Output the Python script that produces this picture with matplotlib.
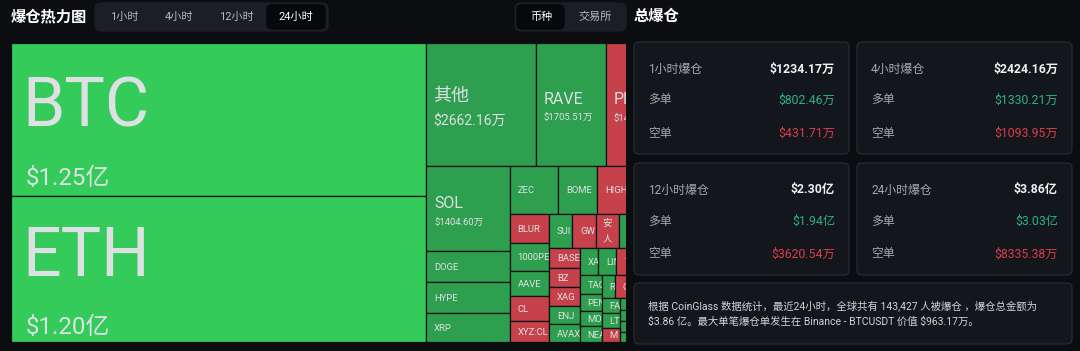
import matplotlib
matplotlib.use('Agg')
import matplotlib.pyplot as plt
from matplotlib.patches import Rectangle, FancyBboxPatch

# ---------------- data ----------------
coins = ['BTC', 'ETH', '其他', 'RAVE', 'PIPPIN', 'SOL', 'DOGE', 'HYPE', 'XRP',
         'ZEC', 'BOME', 'HIGH', 'BNB',
         'BLUR', '1000PEPE', 'AAVE', 'CL', 'XYZ:CL',
         'SUI', 'GW', '安人', 'ASTER', 'ENA',
         'BASE', 'BZ', 'XAG', 'ENJ', 'AVAX',
         'XAUT', 'LINK', 'TRUMP', 'ADA', 'ARB',
         'TAO', 'PENGU', 'MON', 'NEAR',
         'RIVER', 'OP', 'APT', 'FIL', 'WIF',
         'FARTCOIN', 'LTC', 'M',
         'SEI', 'TIA', 'INJ', 'JUP', 'ONDO', 'BCH', 'DOT', 'UNI', 'ETC', 'TON']
values = [12500, 12000, 2662.16, 1705.51, 1440, 1404.60, 510, 505, 477,
          457, 371, 350, 290,
          224, 216, 200, 193, 160,
          159, 158, 157, 156, 155,
          120, 117, 114, 110, 107,
          101, 97, 93, 85, 83,
          82, 72, 70, 68,
          60, 58, 57, 56, 55,
          54, 52, 50,
          48, 46, 44, 42, 40, 38, 36, 34, 32, 30]
sides = ['L', 'L', 'L', 'L', 'S', 'L', 'L', 'L', 'L',
         'L', 'L', 'S', 'L',
         'S', 'L', 'L', 'S', 'S',
         'L', 'S', 'S', 'L', 'L',
         'S', 'S', 'S', 'L', 'L',
         'L', 'L', 'S', 'L', 'L',
         'L', 'L', 'L', 'L',
         'L', 'S', 'L', 'L', 'L',
         'L', 'L', 'S',
         'L', 'L', 'L', 'L', 'L', 'L', 'L', 'L', 'L', 'L']

periods = ['1小时', '4小时', '12小时', '24小时']
total_liq = [1234.17, 2424.16, 23000.0, 38600.0]
long_liq = [802.46, 1330.21, 19400.0, 30300.0]
short_liq = [431.71, 1093.95, 3620.54, 8335.38]

time_tabs = ['1小时', '4小时', '12小时', '24小时']
group_tabs = ['币种', '交易所']
note_lines = ['根据 CoinGlass 数据统计，最近24小时，全球共有 143,427 人被爆仓 ，爆仓总金额为',
              '$3.86 亿。最大单笔爆仓单发生在 Binance - BTCUSDT 价值 $963.17万。']

# ---------------- style ----------------
BG = '#0b0d11'
CARD = '#13161b'
CARD_EDGE = '#2a2e35'
GREEN_BIG = '#34cb5b'
GREEN = '#2e9f4f'
RED = '#c6414a'
CELL_TXT = '#dde1e4'
UP = '#2bb38a'
DOWN = '#dc3b4f'

plt.rcParams['font.family'] = ['Roboto', 'Noto Sans CJK SC', 'DejaVu Sans']


def fmt(v):
    if v >= 10000:
        return '$%.2f亿' % (v / 10000.0)
    return '$%.2f万' % v


def squarify(vals, x, y, w, h, ratio=0.5 * (1 + 5 ** 0.5)):
    """ECharts-style squarified treemap layout."""
    total = float(sum(vals))
    scale = w * h / total
    areas = [v * scale for v in vals]
    out = [None] * len(vals)
    rect = {'x': x, 'y': y, 'width': w, 'height': h}

    def worst(row, rarea, L):
        if rarea <= 0:
            return float('inf')
        amax = max(areas[i] for i in row)
        amin = min(areas[i] for i in row)
        sq = rarea * rarea
        f = L * L * ratio
        return max(f * amax / sq, sq / (f * amin))

    def position(row, rarea, L, flush):
        horiz = (L == rect['width'])
        if horiz:
            p0, s0, p1, s1 = 'x', 'width', 'y', 'height'
        else:
            p0, s0, p1, s1 = 'y', 'height', 'x', 'width'
        last = rect[p0]
        other = rarea / L if L else 0
        if flush or other > rect[s1]:
            other = rect[s1]
        for j, idx in enumerate(row):
            step = areas[idx] / other if other else 0
            remain = rect[p0] + rect[s0] - last
            mod = remain if (j == len(row) - 1 or remain < step) else step
            if horiz:
                out[idx] = (last, rect['y'], mod, other)
            else:
                out[idx] = (rect['x'], last, other, mod)
            last += mod
        rect[p1] += other
        rect[s1] -= other

    L = min(w, h)
    best = float('inf')
    row, rarea = [], 0.0
    i = 0
    while i < len(vals):
        row.append(i)
        rarea += areas[i]
        score = worst(row, rarea, L)
        if score <= best:
            i += 1
            best = score
        else:
            row.pop()
            rarea -= areas[i]
            position(row, rarea, L, False)
            L = min(rect['width'], rect['height'])
            row, rarea = [], 0.0
            best = float('inf')
    if row:
        position(row, rarea, L, True)
    return out


def tier(v):
    if v >= 10000:
        return dict(name_px=68, val_px=24, dn=-17, dv=57, pad=11)
    if v >= 2000:
        return dict(name_px=18, val_px=14, dn=-10.5, dv=16, pad=7)
    if v >= 1000:
        return dict(name_px=16, val_px=9.5, dn=-6.3, dv=13.3, pad=8)
    return dict(name_px=9.5, val_px=None, dn=0, dv=0, pad=8)


def is_cjk(s):
    return any('\u4e00' <= ch <= '\u9fff' for ch in s)


# ---------------- figure ----------------
fig = plt.figure(figsize=(10.8, 3.51), dpi=100, facecolor=BG)
renderer = fig.canvas.get_renderer()

ui = fig.add_axes([0, 0, 1, 1], zorder=0)
ui.set_xlim(0, 1080)
ui.set_ylim(351, 0)
ui.axis('off')
ui.set_facecolor(BG)


def rbox(x0, y0, x1, y1, fc, ec=None, r=5, lw=1.0):
    ui.add_patch(FancyBboxPatch((x0, y0), x1 - x0, y1 - y0,
                                boxstyle='round,pad=0,rounding_size=%s' % r,
                                fc=fc, ec=ec if ec else fc, lw=lw))


def utext(x, y, s, **kw):
    return ui.text(x, y, s, parse_math=False, **kw)


# header left
utext(11, 17, '爆仓热力图', fontsize=11, fontweight='bold', color='white',
      ha='left', va='center')
rbox(95, 3, 328, 31, '#1b1e24', r=6)
rbox(267, 5, 325, 29, '#07080b', r=5)
for lab, cx in zip(time_tabs, [124, 179, 236, 296]):
    sel = lab == '24小时'
    utext(cx, 17, lab, fontsize=8, color='#ffffff' if sel else '#b5b9c0',
          ha='center', va='center')

rbox(515, 3, 626, 31, '#1b1e24', r=6)
rbox(517, 5, 564, 29, '#07080b', r=5)
for lab, cx in zip(group_tabs, [541, 595]):
    sel = lab == '币种'
    utext(cx, 17, lab, fontsize=8, color='#ffffff' if sel else '#b5b9c0',
          ha='center', va='center')

# right panel
utext(634, 17, '总爆仓', fontsize=11, fontweight='bold', color='white',
      ha='left', va='center')
card_x = [634, 857]
card_y = [42, 163]
for i, p in enumerate(periods):
    x0 = card_x[i % 2]
    y0 = card_y[i // 2]
    rbox(x0, y0, x0 + 215, y0 + 112, CARD, ec=CARD_EDGE, r=5, lw=0.8)
    utext(x0 + 14, y0 + 27, p + '爆仓', fontsize=8.6, color='#a3a8b0',
          ha='left', va='center')
    utext(x0 + 201, y0 + 27, fmt(total_liq[i]), fontsize=8.8, fontweight='bold',
          color='#eef0f2', ha='right', va='center')
    utext(x0 + 14, y0 + 58, '多单', fontsize=8.6, color='#a3a8b0',
          ha='left', va='center')
    utext(x0 + 201, y0 + 58, fmt(long_liq[i]), fontsize=8.8, color=UP,
          ha='right', va='center')
    utext(x0 + 14, y0 + 91, '空单', fontsize=8.6, color='#a3a8b0',
          ha='left', va='center')
    utext(x0 + 201, y0 + 91, fmt(short_liq[i]), fontsize=8.8, color=DOWN,
          ha='right', va='center')

rbox(634, 283, 1072, 344, CARD, ec=CARD_EDGE, r=5, lw=0.8)
for k, line in enumerate(note_lines):
    utext(648, 306 + 16 * k, line, fontsize=7.5, color='#d0d3d8',
          ha='left', va='center')

# ---------------- treemap ----------------
H = 299.0
W_VIS = 615.0
W_FULL = 654.0
ax = fig.add_axes([11 / 1080, 9 / 351, W_VIS / 1080, H / 351], zorder=2)
ax.set_xlim(0, W_VIS)
ax.set_ylim(H, 0)
ax.axis('off')

order = sorted(range(len(values)), key=lambda i: -values[i])
vals_sorted = [values[i] for i in order]
layout = squarify(vals_sorted, 0, 0, W_FULL, H)


def ctext(x, y, s, clip, right, **kw):
    """Cell label clipped to its cell; characters that start past the cell's
    right edge are dropped (the last partial one stays, clipped)."""
    t = ax.text(x, y, s, parse_math=False, clip_on=True, **kw)
    t.set_clip_path(clip)
    t.set_clip_on(True)
    right_px = ax.transData.transform((right, 0))[0]
    left_px = t.get_window_extent(renderer).x0
    while len(s) > 1:
        t.set_text(s[:-1])
        if left_px + t.get_window_extent(renderer).width >= right_px - 0.5:
            s = s[:-1]
        else:
            break
    t.set_text(s)
    return t


for idx, (x, y, w, h) in zip(order, layout):
    if x >= W_VIS:
        continue
    v = values[idx]
    name = coins[idx]
    if sides[idx] == 'L':
        col = GREEN_BIG if v >= 10000 else GREEN
    else:
        col = RED
    ax.add_patch(Rectangle((x, y), w, h, facecolor=col, edgecolor='#0e1115',
                           lw=0.9))
    right = min(x + w, W_VIS)
    clip = Rectangle((x, y), right - x, h, transform=ax.transData)
    t = tier(v)
    if h < 9 or right - x < 4:
        continue
    cy = y + h / 2.0
    lx = x + t['pad']
    if lx >= right:
        continue
    npx = t['name_px']
    if is_cjk(name) and len(name) > 1 and (w - 2 * t['pad']) < len(name) * npx:
        n = len(name)
        for k, ch in enumerate(name):
            yy = cy + (k - (n - 1) / 2.0) * 1.55 * npx
            ctext(x + w / 2.0, yy, ch, clip, right + npx, fontsize=npx * 0.72,
                  color=CELL_TXT, ha='center', va='center')
        continue
    ctext(lx, cy + t['dn'] + 0.355 * npx, name, clip, right, fontsize=npx * 0.72,
          color=CELL_TXT, ha='left', va='baseline')
    if t['val_px']:
        vpx = t['val_px']
        ctext(lx + (4 if v >= 10000 else 0), cy + t['dv'] + 0.355 * vpx,
              fmt(v), clip, right, fontsize=vpx * 0.72, color=CELL_TXT,
              ha='left', va='baseline')

fig.savefig('out.png', dpi=100, facecolor=BG)
